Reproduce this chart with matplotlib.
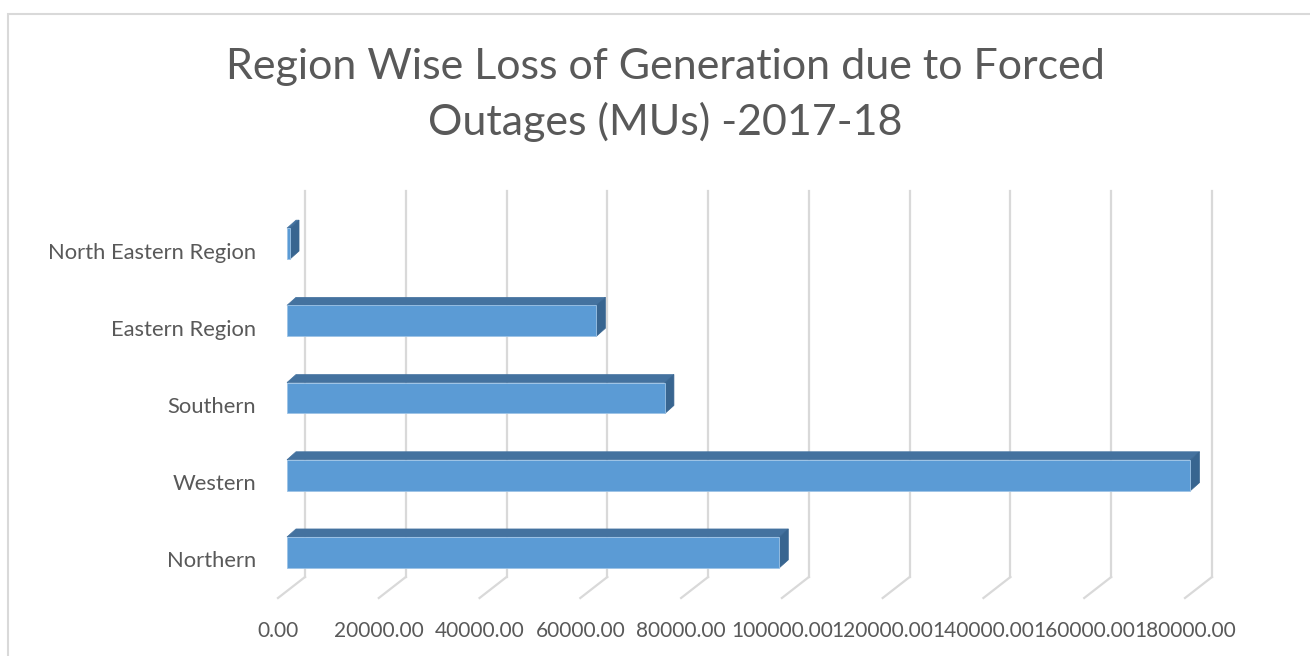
import matplotlib
matplotlib.use("Agg")
import matplotlib.pyplot as plt
from matplotlib.patches import Polygon, Rectangle

# data (MUs)
regions = ["Northern", "Western", "Southern", "Eastern Region", "North Eastern Region"]
loss_mu = [97700, 179300, 75000, 61400, 600]
tick_vals = [0, 20000, 40000, 60000, 80000, 100000, 120000, 140000, 160000, 180000]
tick_labels = ["%.2f" % t for t in tick_vals]
title = "Region Wise Loss of Generation due to Forced\nOutages (MUs) -2017-18"

W, H = 1310, 656
txt = "#595959"
grid_c = "#D9D9D9"
front_c = "#5B9BD5"
top_c = "#44729F"
side_c = "#386590"

plt.rcParams['font.family'] = ['Lato', 'DejaVu Sans']

fig = plt.figure(figsize=(W / 100, H / 100), dpi=100)
ax = fig.add_axes([287 / W, (H - 591) / H, 907 / W, 386 / H])
ax.set_xlim(0, 180000)
ax.set_ylim(-0.5, 4.5)
ax.axis("off")

# data units per pixel
ux = 180000 / 907
uy = 5 / 386


def off(x, y, dx, dy):
    # shift a data point by dx px right and dy px up
    return (x + dx * ux, y + dy * uy)


# back wall gridlines + floor
for t in tick_vals:
    x0, y0 = off(t, -0.5, 18, 14)
    x1, y1 = off(t, 4.5, 18, 14)
    ax.plot([x0, x1], [y0, y1], color=grid_c, lw=1.6, clip_on=False, zorder=1)
    x2, y2 = off(t, -0.5, -9, -7)
    ax.plot([x0, x2], [y0, y2], color=grid_c, lw=1.6, clip_on=False, zorder=1)

# bars
h = 0.4
ypos = list(range(len(regions)))
ax.barh(ypos, loss_mu, height=h, color=front_c, edgecolor="#9DC3E6", lw=0.6, zorder=4)
for i, v in zip(ypos, loss_mu):
    yt = i + h / 2
    yb = i - h / 2
    top = [(0, yt), (v, yt), off(v, yt, 9, 8), off(0, yt, 9, 8)]
    side = [(v, yb), (v, yt), off(v, yt, 9, 8), off(v, yb, 9, 8)]
    ax.add_patch(Polygon(top, closed=True, fc=top_c, ec=top_c, lw=0.5, zorder=3, clip_on=False))
    ax.add_patch(Polygon(side, closed=True, fc=side_c, ec=side_c, lw=0.5, zorder=3, clip_on=False))

# category labels on the front plane
for i, name in zip(ypos, regions):
    x, y = off(0, i, -31, -9)
    ax.text(x, y, name, ha="right", va="center", fontsize=15.8, color=txt)

# value axis labels
for t, lab in zip(tick_vals, tick_labels):
    x, y = off(t, -0.5, -9, -40)
    ax.text(x, y, lab, ha="center", va="center", fontsize=15, color=txt)

fig.text(665 / W, 1 - 95 / H, title, ha="center", va="center", fontsize=31,
         color=txt, linespacing=1.45)

fig.patches.append(Rectangle((8 / W, -0.1), 2, (H - 14) / H + 0.1, transform=fig.transFigure,
                             fill=False, ec=grid_c, lw=1.5))

fig.savefig("out.png", dpi=100, facecolor="white")
